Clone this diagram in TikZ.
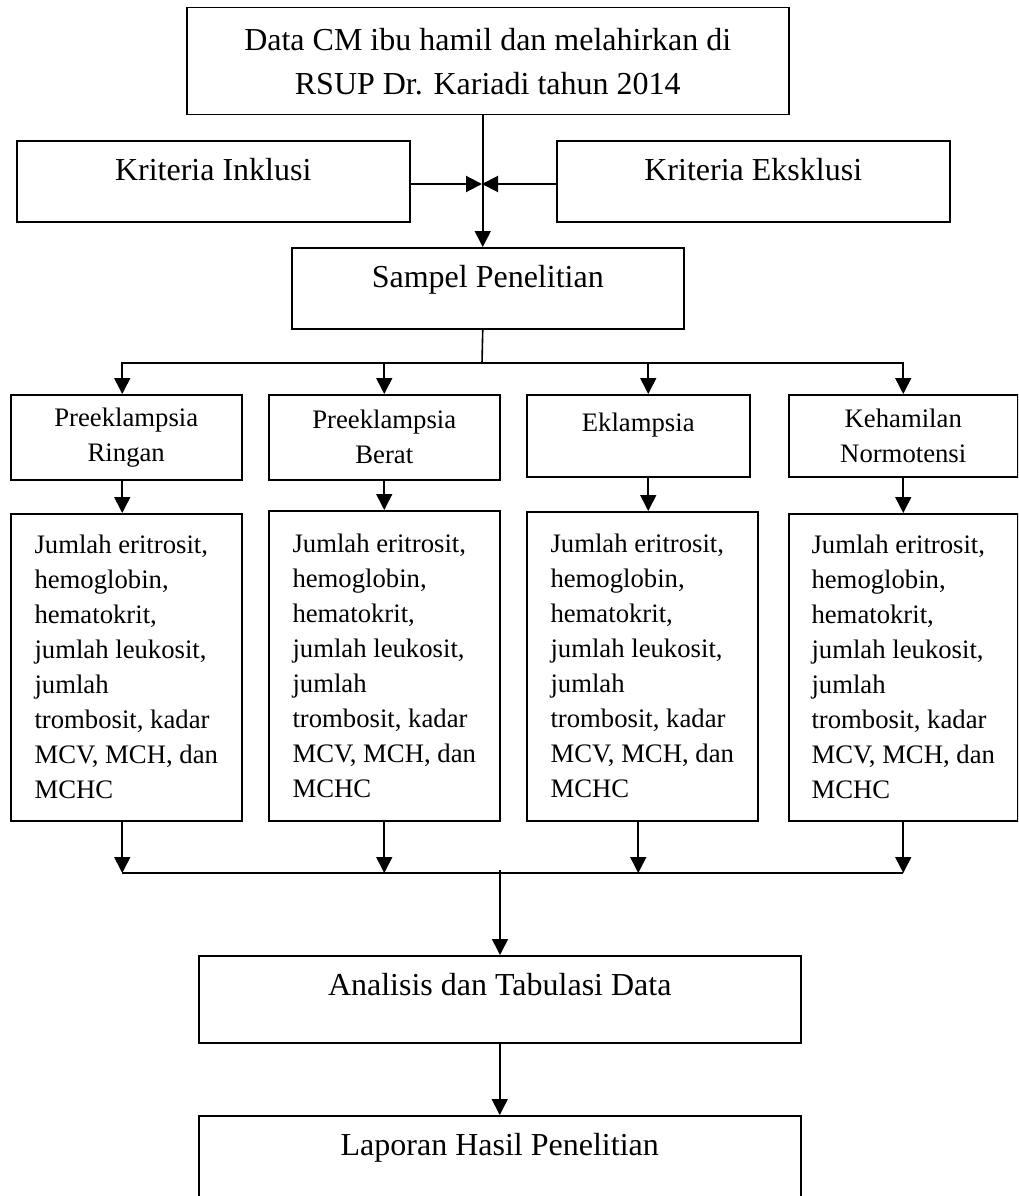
\documentclass[tikz,border=0pt]{standalone}
\usepackage{fontspec}
\setmainfont{Liberation Serif}
\usetikzlibrary{arrows.meta, calc}

\newcommand{\labtext}{Jumlah eritrosit,\\hemoglobin,\\hematokrit,\\jumlah leukosit,\\jumlah\\trombosit, kadar\\MCV, MCH, dan\\MCHC}

\begin{document}
\begin{tikzpicture}[
  x=1pt, y=-1pt,
  box/.style={draw, line width=1.5pt, anchor=north west, inner sep=0pt,
              align=center},
  big/.style={font=\fontsize{32}{44}\selectfont},
  small/.style={font=\fontsize{26.7}{35}\selectfont},
  lab/.style={box, small, align=left},
  arr/.style={-{Triangle[length=16pt, width=16pt]}, line width=1.6pt},
  thickarr/.style={arr, line width=2pt},
  line/.style={line width=1.6pt},
]
\useasboundingbox (0,0) rectangle (1018,1196);
\clip (0,0) rectangle (1018,1196);
% top part
\node[box, big, minimum width=602pt, minimum height=107pt] (data) at (186,7)
  {Data CM ibu hamil dan melahirkan di\\RSUP Dr. Kariadi tahun 2014};
\node[box, big, minimum width=393pt, text height=40pt, text depth=41pt]
  (inkl) at (16,140) {Kriteria Inklusi};
\node[box, big, minimum width=393pt, text height=40pt, text depth=41pt]
  (eksl) at (556,140) {Kriteria Eksklusi};
\node[box, big, minimum width=392pt, text height=40pt, text depth=41pt]
  (samp) at (291,247) {Sampel Penelitian};
% groups
\node[box, small, minimum width=231pt, minimum height=85pt] (pr1) at (10,394)
  {Preeklampsia\\Ringan};
\node[box, small, minimum width=231pt, minimum height=85pt] (pb1) at (268,394)
  {Preeklampsia\\Berat};
\node[box, small, minimum width=223pt, text height=37pt, text depth=45pt]
  (e1) at (526,394) {Eklampsia};
\node[box, small, minimum width=229pt, minimum height=82pt] (kn1) at (788,394)
  {Kehamilan\\Normotensi};
% blood values
\node[lab, minimum width=231pt, minimum height=307pt] (pr2) at (10,513) {\labtext};
\node[lab, minimum width=231pt, minimum height=310pt] (pb2) at (268,510) {\labtext};
\node[lab, minimum width=231pt, minimum height=309pt] (e2) at (526,511) {\labtext};
\node[lab, minimum width=229pt, minimum height=307pt] (kn2) at (788,513) {\labtext};
% bottom part
\node[box, big, minimum width=602pt, text height=40pt, text depth=47pt]
  (anal) at (198,955) {Analisis dan Tabulasi Data};
\node[box, big, minimum width=602pt, text height=40pt, text depth=60pt]
  (lap) at (198,1115) {Laporan Hasil Penelitian};

\coordinate (cross) at (482,184);
\coordinate (split) at (482,363);
\coordinate (join)  at (500,873);

\draw[arr] ([xshift=-5pt]data.south) -- ([xshift=-5pt]samp.north);
\draw[thickarr] (inkl.east |- cross) -- (cross);
\draw[thickarr] (eksl.west |- cross) -- (cross);
\draw[line] ([xshift=-5pt]samp.south) -- (split);
\draw[arr] (split) -| ([xshift=-4pt]pr1.north);
\draw[arr] (split) -| (pb1.north);
\draw[arr] (split) -| ([xshift=10pt]e1.north);
\draw[arr] (split) -| (kn1.north);
\draw[arr] ([xshift=-4pt]pr1.south) -- ([xshift=-4pt]pr2.north);
\draw[arr] (pb1.south) -- (pb2.north);
\draw[arr] ([xshift=10pt]e1.south) -- ([xshift=6pt]e2.north);
\draw[arr] (kn1.south) -- (kn2.north);
\draw[arr] ([xshift=-4pt]pr2.south) -- ([xshift=-4pt]pr2.south |- join);
\draw[arr] (pb2.south) -- (pb2.south |- join);
\draw[arr] ([xshift=-4pt]e2.south) -- ([xshift=-4pt]e2.south |- join);
\draw[arr] (kn2.south) -- (kn2.south |- join);
\draw[line] ([xshift=-4pt]pr2.south |- join) -- (kn2.south |- join);
\draw[arr] ([yshift=3pt]join) -- (join |- anal.north);
\draw[arr] (anal.south) -- (lap.north);
\end{tikzpicture}
\end{document}
